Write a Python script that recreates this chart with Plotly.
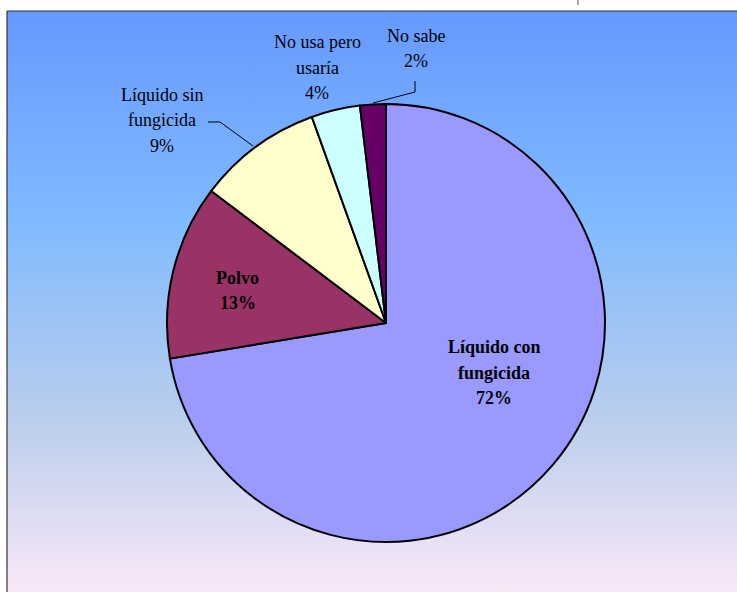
import plotly.graph_objects as go

# ---- data ----
categories = ["Líquido con fungicida", "Polvo", "Líquido sin fungicida", "No usa pero usaría", "No sabe"]
values = [72.4, 12.9, 9.2, 3.6, 1.9]
slice_colors = ["#9999FF", "#993366", "#FFFFCC", "#CCFFFF", "#660066"]
label_lines = [
    ["Líquido con", "fungicida"],
    ["Polvo"],
    ["Líquido sin", "fungicida"],
    ["No usa pero", "usaría"],
    ["No sabe"],
]

W, H = 737, 592
ML, MT = 7, 11
PW, PH = W - ML, H - MT


def px(x):
    return (x - ML) / PW


def py(y):
    return 1 - (y - MT) / PH


fig = go.Figure()

# gradient background
fig.add_trace(go.Scatter(
    x=[0, 1, 1, 0, 0], y=[0, 0, 1, 1, 0],
    mode="lines", line=dict(width=0), fill="toself",
    fillgradient=dict(type="vertical", colorscale=[
        [0.0, "rgb(250,232,248)"],
        [0.296, "rgb(186,206,236)"],
        [0.64, "rgb(128,186,255)"],
        [1.0, "rgb(102,153,255)"],
    ]),
    hoverinfo="skip", showlegend=False,
))

cx, cy, r = 386, 323, 219
fig.add_trace(go.Pie(
    labels=categories, values=values,
    sort=False, direction="clockwise", rotation=0,
    marker=dict(colors=slice_colors, line=dict(color="black", width=2)),
    textinfo="none", hoverinfo="skip", showlegend=False,
    domain=dict(x=[px(cx - r), px(cx + r)], y=[py(cy + r), py(cy - r)]),
))

total = sum(values)
pct = [f"{round(v / total * 100)}%" for v in values]

font_n = dict(family="Liberation Serif", size=18, color="black")
# (slice index, center x, first line y, bold)
label_pos = [
    (0, 494, 347, True),
    (1, 238, 278, True),
    (2, 162, 95, False),
    (3, 317, 42, False),
    (4, 416, 36, False),
]
LINE = 25.5
for i, x, y0, bold in label_pos:
    lines = label_lines[i] + [pct[i]]
    for k, t in enumerate(lines):
        txt = f"<b>{t}</b>" if bold else t
        fig.add_annotation(x=px(x), y=py(y0 + k * LINE), xref="paper", yref="paper", text=txt,
                           showarrow=False, font=font_n, align="center",
                           xanchor="center", yanchor="middle")

shapes = []
# leader lines
def seg(x0, y0, x1, y1):
    shapes.append(dict(type="line", xref="paper", yref="paper",
                       x0=px(x0), y0=py(y0), x1=px(x1), y1=py(y1),
                       line=dict(color="black", width=1)))

seg(208, 122, 220, 122)
seg(220, 122, 253, 146)
seg(415, 81, 415, 92)
seg(415, 92, 373, 103)

# frame (left and top edges)
shapes.append(dict(type="line", xref="paper", yref="paper", x0=0, y0=-0.02, x1=0, y1=1,
                   line=dict(color="#333333", width=1.2)))
shapes.append(dict(type="line", xref="paper", yref="paper", x0=0, y0=1, x1=1.02, y1=1,
                   line=dict(color="#333333", width=1.2)))
# small mark at top
shapes.append(dict(type="line", xref="paper", yref="paper", x0=px(578), y0=py(0), x1=px(578), y1=py(5),
                   line=dict(color="#555555", width=1)))

fig.update_layout(
    width=W, height=H,
    margin=dict(l=ML, r=0, t=MT, b=0),
    paper_bgcolor="white", plot_bgcolor="rgba(0,0,0,0)",
    xaxis=dict(range=[0, 1], visible=False, fixedrange=True),
    yaxis=dict(range=[0, 1], visible=False, fixedrange=True),
    shapes=shapes,
    showlegend=False,
)

fig.write_html("out.html", config={"displayModeBar": False})
